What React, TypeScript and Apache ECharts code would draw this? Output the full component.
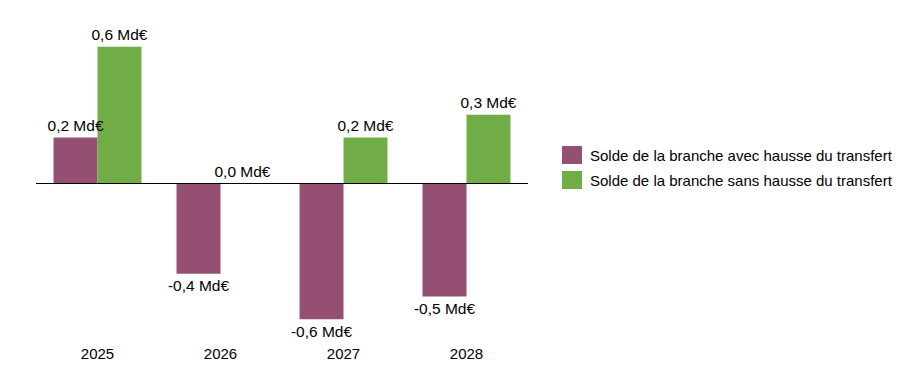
import React, { useEffect, useRef } from "react";
import * as echarts from "echarts";

const categories = ["2025", "2026", "2027", "2028"];
const avecHausse = [0.2, -0.4, -0.6, -0.5];
const sansHausse = [0.6, 0.0, 0.2, 0.3];
const seriesNames = [
  "Solde de la branche avec hausse du transfert",
  "Solde de la branche sans hausse du transfert",
];

const FONT = "Liberation Sans";

const fmt = (v: number) => v.toFixed(1).replace(".", ",") + " Md€";

const toData = (arr: number[]) =>
  arr.map((v) => ({
    value: v,
    label: { position: v < 0 ? "bottom" : "top" },
  }));

export default function App() {
  const ref = useRef<HTMLDivElement>(null);
  useEffect(() => {
    if (!ref.current) return;
    const chart = echarts.init(ref.current, null, { renderer: "svg" });
    const labelCommon = {
      show: true,
      formatter: (p: any) => fmt(p.value),
      fontFamily: FONT,
      fontSize: 15.5,
      color: "#000",
      distance: 4,
    };
    chart.setOption({
      animation: false,
      textStyle: { fontFamily: FONT },
      grid: { left: 28, right: 380, top: 16, bottom: 24, containLabel: false },
      legend: {
        orient: "vertical",
        left: 554,
        top: 138,
        padding: 0,
        itemWidth: 20,
        itemHeight: 18,
        itemGap: 7,
        icon: "rect",
        textStyle: {
          fontFamily: FONT,
          fontSize: 15,
          color: "#000",
          padding: [0, 0, 0, 3],
        },
        data: seriesNames,
      },
      xAxis: {
        type: "category",
        data: categories,
        axisLine: { show: false, onZero: false },
        axisTick: { show: false },
        axisLabel: { fontFamily: FONT, fontSize: 15, color: "#000", margin: 4 },
      },
      yAxis: {
        type: "value",
        min: -0.7,
        max: 0.7,
        show: false,
        splitLine: { show: false },
      },
      series: [
        {
          name: seriesNames[0],
          type: "bar",
          data: toData(avecHausse),
          itemStyle: { color: "#954F72" },
          barGap: "0%",
          barCategoryGap: "28.5%",
          label: labelCommon,
          markLine: {
            silent: true,
            symbol: "none",
            label: { show: false },
            lineStyle: { color: "#000", width: 1, type: "solid" },
            data: [{ yAxis: 0 }],
          },
        },
        {
          name: seriesNames[1],
          type: "bar",
          data: toData(sansHausse),
          itemStyle: { color: "#70AD47" },
          barGap: "0%",
          barCategoryGap: "28.5%",
          label: labelCommon,
        },
      ],
    });
    return () => chart.dispose();
  }, []);
  return <div ref={ref} style={{ width: 900, height: 358 }} />;
}
